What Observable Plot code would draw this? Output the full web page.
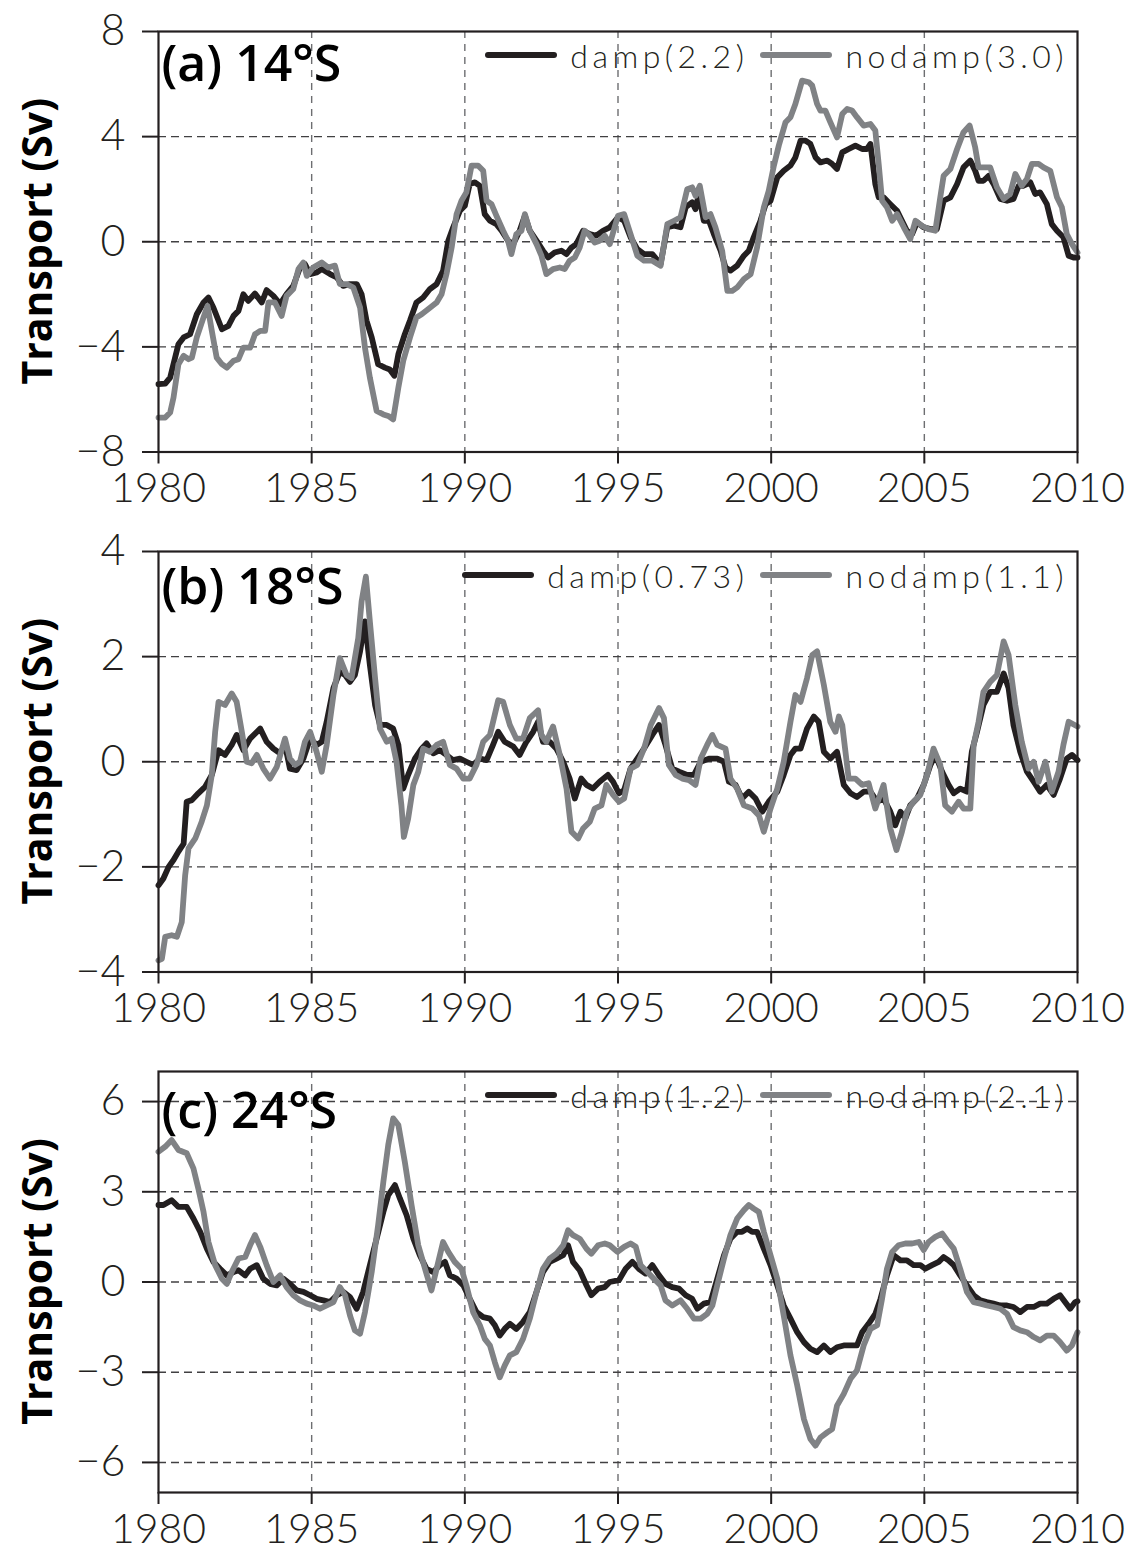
<!DOCTYPE html>
<html>
<head>
<meta charset="utf-8">
<script src="https://cdn.jsdelivr.net/npm/d3@7"></script>
<script src="https://cdn.jsdelivr.net/npm/@observablehq/plot@0.6"></script>
<style>
  html, body { margin: 0; padding: 0; background: #fff; }
  #chart { position: relative; width: 1134px; }
  .panel { position: relative; width: 1134px; }
  .panel svg { display: block; }
  .legend {
    position: absolute; display: flex; align-items: center; height: 32px;
    font-family: Lato, sans-serif; font-weight: 300; font-size: 32px;
    letter-spacing: 4.5px; color: #231f20; white-space: nowrap;
  }
  .legend .sw { display: inline-block; width: 72px; height: 6px; border-radius: 3px; margin-right: 13px; }
  .legend .lab { margin-right: 12px; }
  g[aria-label="x-axis tick label"] text { font-size: 41px; }
  g[aria-label="y-axis tick label"] text { font-size: 43px; }
  g[aria-label="x-axis tick"], g[aria-label="y-axis tick"] { stroke-width: 2px; }
</style>
</head>
<body>
<div id="chart"></div>
<script>
// Meridional transport time series (Sv), damped vs. undamped runs, [year, value]
const damp14 = [
  [1980.00,-5.42],[1980.22,-5.40],[1980.38,-5.17],[1980.65,-3.90],[1980.82,-3.64],[1981.03,-3.52],
  [1981.25,-2.76],[1981.47,-2.31],[1981.63,-2.12],[1981.79,-2.50],[1982.07,-3.33],[1982.28,-3.20],
  [1982.45,-2.82],[1982.61,-2.63],[1982.77,-2.00],[1982.93,-2.25],[1983.15,-1.97],[1983.37,-2.31],
  [1983.53,-1.84],[1983.75,-2.06],[1983.97,-2.37],[1984.18,-1.99],[1984.40,-1.68],[1984.62,-0.98],
  [1984.78,-0.85],[1984.95,-1.23],[1985.16,-1.17],[1985.33,-1.04],[1985.60,-1.23],[1985.82,-1.36],
  [1986.03,-1.68],[1986.25,-1.61],[1986.47,-1.61],[1986.63,-2.00],[1986.79,-3.00],[1986.96,-3.64],
  [1987.17,-4.66],[1987.39,-4.79],[1987.55,-4.86],[1987.70,-5.10],[1987.83,-4.28],[1988.04,-3.52],
  [1988.21,-3.00],[1988.42,-2.31],[1988.64,-2.12],[1988.86,-1.80],[1989.08,-1.61],[1989.29,-1.10],
  [1989.46,0.04],[1989.62,0.55],[1989.84,1.18],[1990.00,1.37],[1990.16,2.20],[1990.33,2.26],
  [1990.49,2.13],[1990.65,1.05],[1990.82,0.80],[1991.03,0.67],[1991.20,0.42],[1991.41,0.04],
  [1991.58,-0.09],[1991.79,0.42],[1991.96,0.99],[1992.12,0.42],[1992.34,0.04],[1992.55,-0.34],
  [1992.72,-0.60],[1992.93,-0.41],[1993.15,-0.34],[1993.32,-0.47],[1993.48,-0.22],[1993.64,-0.09],
  [1993.86,0.42],[1994.08,0.29],[1994.29,0.23],[1994.51,0.42],[1994.73,0.55],[1995.00,0.93],
  [1995.20,0.80],[1995.41,0.17],[1995.63,-0.28],[1995.85,-0.47],[1996.12,-0.47],[1996.39,-0.85],
  [1996.61,0.55],[1996.83,0.61],[1997.04,0.55],[1997.21,1.31],[1997.42,1.50],[1997.53,1.24],
  [1997.64,1.82],[1997.80,0.80],[1997.97,0.80],[1998.13,0.29],[1998.35,-0.34],[1998.51,-0.98],
  [1998.67,-1.10],[1998.89,-0.91],[1999.11,-0.53],[1999.27,-0.34],[1999.43,0.17],[1999.65,0.80],
  [1999.82,1.43],[1999.98,1.56],[2000.20,2.45],[2000.41,2.70],[2000.63,2.90],[2000.79,3.21],
  [2000.96,3.85],[2001.12,3.85],[2001.28,3.72],[2001.45,3.21],[2001.61,3.02],[2001.83,3.09],
  [2001.99,2.96],[2002.15,2.77],[2002.32,3.40],[2002.53,3.53],[2002.75,3.66],[2002.97,3.53],
  [2003.13,3.53],[2003.24,3.72],[2003.40,2.20],[2003.51,1.69],[2003.67,1.69],[2003.89,1.43],
  [2004.11,1.18],[2004.27,0.80],[2004.43,0.42],[2004.60,0.29],[2004.76,0.74],[2004.98,0.55],
  [2005.20,0.48],[2005.41,0.48],[2005.63,1.56],[2005.85,1.69],[2006.07,2.20],[2006.28,2.83],
  [2006.50,3.09],[2006.66,2.70],[2006.77,2.32],[2006.93,2.32],[2007.10,2.51],[2007.26,2.20],
  [2007.48,1.63],[2007.70,1.56],[2007.91,1.63],[2008.08,2.13],[2008.24,2.13],[2008.46,2.26],
  [2008.62,1.82],[2008.78,1.88],[2009.00,1.43],[2009.16,0.67],[2009.33,0.42],[2009.54,0.17],
  [2009.71,-0.53],[2009.87,-0.60],[2010.00,-0.60]
];
const nodamp14 = [
  [1980.00,-6.69],[1980.22,-6.69],[1980.38,-6.50],[1980.49,-5.93],[1980.65,-4.66],[1980.82,-4.34],
  [1980.98,-4.47],[1981.09,-4.41],[1981.25,-3.64],[1981.47,-2.88],[1981.60,-2.44],[1981.74,-3.39],
  [1981.90,-4.41],[1982.07,-4.66],[1982.23,-4.79],[1982.45,-4.53],[1982.61,-4.47],[1982.77,-4.03],
  [1982.99,-4.03],[1983.15,-3.52],[1983.32,-3.39],[1983.48,-3.39],[1983.59,-2.31],[1983.80,-2.31],
  [1984.02,-2.82],[1984.18,-2.06],[1984.40,-1.80],[1984.57,-1.04],[1984.73,-0.79],[1984.84,-1.30],
  [1985.05,-0.98],[1985.33,-0.79],[1985.54,-0.98],[1985.76,-0.91],[1985.92,-1.61],[1986.14,-1.61],
  [1986.36,-1.74],[1986.58,-2.50],[1986.74,-4.03],[1986.90,-5.17],[1987.12,-6.44],[1987.34,-6.57],
  [1987.50,-6.63],[1987.66,-6.76],[1987.83,-5.55],[1987.99,-4.53],[1988.21,-3.64],[1988.42,-2.88],
  [1988.59,-2.76],[1988.80,-2.57],[1989.08,-2.31],[1989.24,-2.00],[1989.40,-1.23],[1989.57,-0.22],
  [1989.73,1.05],[1989.89,1.56],[1990.05,1.88],[1990.22,2.90],[1990.43,2.90],[1990.60,2.70],
  [1990.71,1.56],[1990.87,1.43],[1991.03,0.99],[1991.25,0.42],[1991.41,0.04],[1991.52,-0.47],
  [1991.68,0.29],[1991.85,0.42],[1991.96,1.05],[1992.12,0.42],[1992.34,-0.09],[1992.50,-0.53],
  [1992.66,-1.23],[1992.88,-1.04],[1993.10,-0.98],[1993.26,-1.04],[1993.42,-0.72],[1993.59,-0.60],
  [1993.75,-0.22],[1993.91,0.42],[1994.08,0.23],[1994.24,-0.03],[1994.40,0.04],[1994.57,0.23],
  [1994.73,-0.09],[1994.89,0.55],[1995.00,0.99],[1995.20,1.05],[1995.41,0.29],[1995.63,-0.53],
  [1995.85,-0.72],[1996.12,-0.72],[1996.39,-0.91],[1996.61,0.67],[1996.83,0.80],[1997.04,0.93],
  [1997.26,2.00],[1997.42,2.07],[1997.53,1.75],[1997.67,2.13],[1997.86,0.93],[1998.02,1.05],
  [1998.18,0.55],[1998.40,-0.34],[1998.57,-1.87],[1998.73,-1.87],[1998.89,-1.74],[1999.11,-1.42],
  [1999.33,-1.23],[1999.54,-0.22],[1999.76,1.31],[1999.92,1.94],[2000.09,2.90],[2000.25,3.66],
  [2000.47,4.55],[2000.63,4.74],[2000.79,5.24],[2001.01,6.13],[2001.23,6.07],[2001.34,5.94],
  [2001.50,5.24],[2001.61,4.99],[2001.77,4.99],[2001.93,4.55],[2002.15,3.97],[2002.32,4.86],
  [2002.48,5.05],[2002.64,4.99],[2002.80,4.74],[2003.02,4.42],[2003.24,4.48],[2003.40,4.23],
  [2003.51,2.96],[2003.62,1.56],[2003.78,1.31],[2003.95,0.80],[2004.11,1.05],[2004.33,0.55],
  [2004.54,0.10],[2004.71,0.80],[2004.92,0.61],[2005.14,0.48],[2005.36,0.42],[2005.52,1.69],
  [2005.63,2.51],[2005.85,2.77],[2006.07,3.53],[2006.28,4.17],[2006.48,4.42],[2006.66,3.59],
  [2006.77,2.83],[2006.99,2.83],[2007.15,2.83],[2007.37,2.07],[2007.59,1.63],[2007.80,1.82],
  [2007.97,2.58],[2008.18,2.13],[2008.35,2.39],[2008.51,2.96],[2008.73,2.96],[2008.89,2.83],
  [2009.11,2.70],[2009.33,1.69],[2009.49,1.31],[2009.65,0.29],[2009.82,-0.09],[2010.00,-0.41]
];
const damp18 = [
  [1980.00,-2.35],[1980.16,-2.22],[1980.33,-2.00],[1980.49,-1.87],[1980.65,-1.71],[1980.82,-1.56],
  [1980.92,-0.76],[1981.09,-0.73],[1981.30,-0.60],[1981.52,-0.48],[1981.74,-0.25],[1981.96,0.22],
  [1982.17,0.13],[1982.39,0.32],[1982.55,0.51],[1982.77,0.22],[1982.99,0.44],[1983.32,0.63],
  [1983.53,0.38],[1983.75,0.25],[1983.97,0.16],[1984.13,0.32],[1984.29,-0.13],[1984.51,-0.16],
  [1984.73,0.06],[1984.95,0.44],[1985.16,0.32],[1985.33,0.38],[1985.49,0.76],[1985.71,1.40],
  [1985.92,1.71],[1986.09,1.65],[1986.25,1.52],[1986.41,1.65],[1986.58,2.10],[1986.74,2.67],
  [1986.90,1.84],[1987.07,1.08],[1987.23,0.70],[1987.45,0.70],[1987.66,0.63],[1987.83,0.32],
  [1987.99,-0.51],[1988.15,-0.25],[1988.37,0.06],[1988.59,0.25],[1988.75,0.35],[1988.97,0.16],
  [1989.18,0.22],[1989.40,0.13],[1989.62,0.03],[1989.84,0.06],[1990.05,0.00],[1990.27,-0.06],
  [1990.49,0.06],[1990.71,0.03],[1990.92,0.32],[1991.09,0.57],[1991.30,0.38],[1991.58,0.29],
  [1991.79,0.13],[1992.01,0.38],[1992.23,0.57],[1992.39,0.76],[1992.55,0.38],[1992.77,0.38],
  [1992.99,0.25],[1993.21,0.00],[1993.42,-0.32],[1993.59,-0.70],[1993.80,-0.32],[1993.97,-0.44],
  [1994.18,-0.51],[1994.40,-0.38],[1994.67,-0.25],[1994.84,-0.38],[1995.03,-0.60],[1995.20,-0.54],
  [1995.41,-0.13],[1995.63,0.06],[1995.85,0.25],[1996.12,0.51],[1996.34,0.70],[1996.55,0.32],
  [1996.77,-0.13],[1996.99,-0.19],[1997.26,-0.25],[1997.48,-0.25],[1997.70,0.00],[1997.97,0.06],
  [1998.24,0.06],[1998.46,0.00],[1998.62,-0.38],[1998.84,-0.44],[1999.05,-0.70],[1999.27,-0.57],
  [1999.49,-0.70],[1999.71,-0.95],[1999.92,-0.76],[2000.20,-0.57],[2000.41,-0.25],[2000.63,0.13],
  [2000.79,0.25],[2000.96,0.25],[2001.17,0.63],[2001.39,0.86],[2001.55,0.76],[2001.72,0.19],
  [2001.93,0.06],[2002.15,0.19],[2002.37,-0.44],[2002.59,-0.60],[2002.80,-0.67],[2003.02,-0.57],
  [2003.24,-0.57],[2003.46,-0.76],[2003.67,-0.70],[2003.89,-0.95],[2004.05,-1.21],[2004.22,-0.95],
  [2004.38,-1.08],[2004.54,-0.83],[2004.76,-0.70],[2004.98,-0.44],[2005.20,-0.06],[2005.36,0.13],
  [2005.58,-0.19],[2005.79,-0.44],[2005.96,-0.60],[2006.17,-0.51],[2006.39,-0.57],[2006.55,0.19],
  [2006.72,0.57],[2006.93,1.08],[2007.15,1.33],[2007.37,1.33],[2007.59,1.68],[2007.75,1.40],
  [2007.91,0.70],[2008.13,0.19],[2008.35,-0.19],[2008.57,-0.38],[2008.78,-0.57],[2009.00,-0.44],
  [2009.22,-0.63],[2009.43,-0.32],[2009.65,0.06],[2009.82,0.13],[2010.00,0.03]
];
const nodamp18 = [
  [1980.00,-3.78],[1980.11,-3.75],[1980.22,-3.33],[1980.43,-3.30],[1980.60,-3.33],[1980.76,-3.05],
  [1980.87,-2.16],[1980.98,-1.65],[1981.20,-1.46],[1981.41,-1.14],[1981.58,-0.83],[1981.74,-0.25],
  [1981.85,0.57],[1981.96,1.14],[1982.17,1.08],[1982.39,1.30],[1982.55,1.14],[1982.72,0.57],
  [1982.88,0.00],[1983.04,-0.03],[1983.21,0.13],[1983.42,-0.13],[1983.64,-0.32],[1983.86,-0.10],
  [1984.13,0.44],[1984.29,0.06],[1984.46,-0.06],[1984.62,0.00],[1984.78,0.38],[1984.95,0.57],
  [1985.16,0.19],[1985.33,-0.19],[1985.49,0.32],[1985.71,1.27],[1985.92,1.97],[1986.14,1.65],
  [1986.30,1.59],[1986.52,2.35],[1986.63,3.05],[1986.77,3.52],[1986.90,2.67],[1987.07,1.59],
  [1987.23,0.63],[1987.45,0.38],[1987.61,0.44],[1987.77,0.00],[1987.93,-0.83],[1988.01,-1.43],
  [1988.15,-1.08],[1988.32,-0.44],[1988.48,-0.19],[1988.64,0.25],[1988.86,0.19],[1989.08,0.32],
  [1989.29,0.38],[1989.51,-0.06],[1989.73,-0.13],[1989.95,-0.32],[1990.16,-0.32],[1990.38,-0.06],
  [1990.60,0.38],[1990.82,0.51],[1991.09,1.17],[1991.25,1.14],[1991.47,0.70],[1991.68,0.44],
  [1991.90,0.44],[1992.12,0.83],[1992.39,0.98],[1992.50,0.51],[1992.66,0.38],[1992.88,0.67],
  [1993.10,0.13],[1993.32,-0.51],[1993.48,-1.33],[1993.70,-1.46],[1993.86,-1.27],[1994.08,-1.14],
  [1994.24,-0.89],[1994.46,-0.83],[1994.62,-0.44],[1994.84,-0.63],[1995.03,-0.76],[1995.20,-0.70],
  [1995.41,-0.13],[1995.63,-0.06],[1995.85,0.25],[1996.07,0.70],[1996.34,1.02],[1996.50,0.83],
  [1996.66,-0.06],[1996.88,-0.25],[1997.10,-0.32],[1997.32,-0.35],[1997.53,-0.44],[1997.70,0.06],
  [1997.91,0.32],[1998.08,0.51],[1998.24,0.32],[1998.51,0.25],[1998.67,-0.32],[1998.89,-0.51],
  [1999.11,-0.83],[1999.38,-0.89],[1999.60,-1.02],[1999.76,-1.33],[1999.98,-0.89],[2000.20,-0.51],
  [2000.41,0.00],[2000.63,0.76],[2000.79,1.27],[2000.96,1.14],[2001.17,1.59],[2001.34,2.03],
  [2001.50,2.10],[2001.72,1.46],[2001.93,0.76],[2002.10,0.57],[2002.21,0.86],[2002.32,0.70],
  [2002.53,-0.32],[2002.75,-0.32],[2002.97,-0.44],[2003.18,-0.41],[2003.40,-0.89],[2003.67,-0.44],
  [2003.89,-1.27],[2004.09,-1.68],[2004.27,-1.33],[2004.43,-0.95],[2004.65,-0.76],[2004.87,-0.63],
  [2005.09,-0.25],[2005.30,0.25],[2005.52,-0.06],[2005.68,-0.83],[2005.90,-0.95],[2006.12,-0.76],
  [2006.28,-0.89],[2006.50,-0.89],[2006.61,0.32],[2006.77,0.76],[2006.93,1.33],[2007.15,1.52],
  [2007.37,1.65],[2007.59,2.29],[2007.75,2.03],[2007.97,1.08],[2008.18,0.38],[2008.40,-0.13],
  [2008.57,0.00],[2008.73,-0.38],[2008.95,0.00],[2009.16,-0.57],[2009.38,-0.19],[2009.54,0.32],
  [2009.71,0.76],[2010.00,0.67]
];
const damp24 = [
  [1980.00,2.56],[1980.16,2.56],[1980.43,2.72],[1980.65,2.50],[1980.92,2.50],[1981.14,2.11],
  [1981.36,1.67],[1981.58,1.11],[1981.79,0.67],[1982.01,0.44],[1982.23,0.22],[1982.45,0.33],
  [1982.61,0.39],[1982.83,0.22],[1982.99,0.44],[1983.21,0.56],[1983.42,0.11],[1983.64,-0.06],
  [1983.86,-0.11],[1984.08,0.11],[1984.29,-0.06],[1984.51,-0.28],[1984.73,-0.33],[1984.95,-0.44],
  [1985.16,-0.56],[1985.38,-0.61],[1985.60,-0.67],[1985.82,-0.44],[1986.03,-0.33],[1986.25,-0.50],
  [1986.47,-0.89],[1986.68,-0.33],[1986.90,0.56],[1987.12,1.44],[1987.34,2.33],[1987.50,2.89],
  [1987.72,3.22],[1987.88,2.78],[1988.10,2.22],[1988.32,1.44],[1988.53,0.89],[1988.75,0.44],
  [1988.97,0.33],[1989.18,0.56],[1989.35,0.67],[1989.51,0.22],[1989.73,0.11],[1989.95,-0.11],
  [1990.16,-0.56],[1990.38,-1.00],[1990.60,-1.17],[1990.82,-1.22],[1990.98,-1.44],[1991.14,-1.78],
  [1991.30,-1.56],[1991.47,-1.39],[1991.68,-1.56],[1991.90,-1.33],[1992.12,-1.00],[1992.34,-0.33],
  [1992.55,0.33],[1992.77,0.67],[1992.99,0.78],[1993.21,0.89],[1993.37,1.22],[1993.53,0.67],
  [1993.75,0.39],[1993.97,-0.11],[1994.13,-0.44],[1994.35,-0.22],[1994.57,-0.17],[1994.73,0.00],
  [1995.03,0.06],[1995.25,0.44],[1995.47,0.67],[1995.68,0.44],[1995.90,0.28],[1996.12,0.56],
  [1996.34,0.22],[1996.55,-0.06],[1996.77,-0.17],[1996.99,-0.22],[1997.21,-0.44],[1997.42,-0.56],
  [1997.59,-0.89],[1997.80,-0.72],[1998.02,-0.67],[1998.24,0.11],[1998.46,0.89],[1998.67,1.44],
  [1998.89,1.67],[1999.05,1.67],[1999.22,1.78],[1999.38,1.67],[1999.54,1.67],[1999.76,1.11],
  [1999.98,0.56],[2000.20,-0.11],[2000.41,-0.78],[2000.63,-1.22],[2000.85,-1.67],[2001.07,-2.00],
  [2001.28,-2.22],[2001.50,-2.33],[2001.72,-2.11],[2001.93,-2.33],[2002.15,-2.17],[2002.37,-2.11],
  [2002.59,-2.11],[2002.80,-2.11],[2002.97,-1.67],[2003.18,-1.39],[2003.40,-1.06],[2003.57,-0.56],
  [2003.78,0.22],[2004.00,0.89],[2004.22,0.72],[2004.43,0.72],[2004.65,0.56],[2004.87,0.56],
  [2005.03,0.44],[2005.25,0.56],[2005.47,0.67],[2005.63,0.83],[2005.79,0.72],[2005.96,0.56],
  [2006.17,0.22],[2006.39,-0.11],[2006.61,-0.44],[2006.83,-0.61],[2007.04,-0.67],[2007.26,-0.72],
  [2007.48,-0.78],[2007.70,-0.78],[2007.91,-0.83],[2008.13,-1.00],[2008.35,-0.83],[2008.57,-0.83],
  [2008.78,-0.72],[2009.00,-0.72],[2009.22,-0.56],[2009.43,-0.44],[2009.60,-0.67],[2009.76,-0.89],
  [2009.92,-0.67],[2010.00,-0.64]
];
const nodamp24 = [
  [1980.00,4.33],[1980.22,4.50],[1980.43,4.72],[1980.65,4.39],[1980.92,4.28],[1981.14,3.78],
  [1981.30,3.11],[1981.47,2.33],[1981.63,1.33],[1981.85,0.56],[1982.07,0.11],[1982.23,-0.06],
  [1982.39,0.33],[1982.61,0.78],[1982.83,0.83],[1982.99,1.22],[1983.15,1.56],[1983.32,1.17],
  [1983.53,0.56],[1983.75,0.00],[1983.97,0.22],[1984.18,-0.17],[1984.40,-0.44],[1984.62,-0.61],
  [1984.84,-0.72],[1985.05,-0.78],[1985.27,-0.89],[1985.49,-0.78],[1985.71,-0.67],[1985.92,-0.17],
  [1986.09,-0.44],[1986.25,-1.11],[1986.41,-1.61],[1986.58,-1.72],[1986.74,-1.00],[1986.96,0.33],
  [1987.17,1.89],[1987.34,3.33],[1987.50,4.56],[1987.66,5.44],[1987.83,5.22],[1988.04,4.00],
  [1988.26,2.56],[1988.48,1.22],[1988.70,0.44],[1988.91,-0.28],[1989.08,0.44],[1989.29,1.33],
  [1989.46,1.00],[1989.67,0.67],[1989.89,0.44],[1990.05,-0.11],[1990.27,-1.00],[1990.49,-1.44],
  [1990.65,-1.89],[1990.82,-2.11],[1990.98,-2.67],[1991.14,-3.17],[1991.30,-2.78],[1991.47,-2.44],
  [1991.68,-2.33],[1991.90,-1.89],[1992.12,-1.22],[1992.34,-0.33],[1992.55,0.44],[1992.77,0.78],
  [1992.99,0.94],[1993.21,1.22],[1993.37,1.72],[1993.53,1.56],[1993.75,1.44],[1993.97,1.11],
  [1994.13,0.94],[1994.35,1.22],[1994.57,1.28],[1994.73,1.22],[1994.98,1.00],[1995.20,1.17],
  [1995.41,1.28],[1995.58,1.17],[1995.74,0.56],[1995.96,0.33],[1996.17,0.11],[1996.39,-0.11],
  [1996.55,-0.61],[1996.77,-0.78],[1997.04,-0.61],[1997.26,-0.89],[1997.48,-1.22],[1997.70,-1.22],
  [1997.91,-1.06],[1998.08,-0.78],[1998.24,-0.11],[1998.46,0.78],[1998.67,1.56],[1998.89,2.11],
  [1999.11,2.39],[1999.27,2.56],[1999.43,2.44],[1999.60,2.33],[1999.76,1.67],[1999.98,0.89],
  [2000.20,0.11],[2000.41,-1.11],[2000.63,-2.44],[2000.85,-3.44],[2001.07,-4.56],[2001.28,-5.22],
  [2001.45,-5.44],[2001.61,-5.17],[2001.83,-5.00],[2001.99,-4.89],[2002.15,-4.11],[2002.37,-3.72],
  [2002.59,-3.22],[2002.80,-2.94],[2003.02,-2.11],[2003.24,-1.56],[2003.46,-1.44],[2003.62,-0.56],
  [2003.78,0.44],[2003.95,1.00],[2004.16,1.22],[2004.38,1.28],[2004.60,1.28],[2004.82,1.33],
  [2004.98,1.06],[2005.14,1.33],[2005.36,1.50],[2005.58,1.61],[2005.74,1.39],[2005.96,1.11],
  [2006.17,0.44],[2006.39,-0.33],[2006.61,-0.67],[2006.83,-0.72],[2007.04,-0.78],[2007.26,-0.83],
  [2007.48,-0.89],[2007.70,-1.06],[2007.91,-1.50],[2008.13,-1.61],[2008.35,-1.67],[2008.57,-1.83],
  [2008.78,-1.94],[2009.00,-1.78],[2009.22,-1.78],[2009.43,-2.00],[2009.65,-2.28],[2009.82,-2.11],
  [2010.00,-1.67]
];

// Axis ticks
const xTicks = [1980, 1985, 1990, 1995, 2000, 2005, 2010];
const yTicks14 = [-8, -4, 0, 4, 8];
const yTicks18 = [-4, -2, 0, 2, 4];
const yTicks24 = [-6, -3, 0, 3, 6];

// Panel titles and legend entries (RMS in parentheses)
const titles = ["(a) 14°S", "(b) 18°S", "(c) 24°S"];
const legends = [
  ["damp(2.2)", "nodamp(3.0)"],
  ["damp(0.73)", "nodamp(1.1)"],
  ["damp(1.2)", "nodamp(2.1)"]
];

const INK = "#231f20";
const DAMP = "#231f20";
const NODAMP = "#808285";

const panels = [
  {title: titles[0], legend: legends[0], damp: damp14, nodamp: nodamp14, domain: [-8, 8], ticks: yTicks14, h: 520, mb: 68.5, titleDy: 13.5},
  {title: titles[1], legend: legends[1], damp: damp18, nodamp: nodamp18, domain: [-4, 4], ticks: yTicks18, h: 520, mb: 68.5, titleDy: 16.5},
  {title: titles[2], legend: legends[2], damp: damp24, nodamp: nodamp24, domain: [-7, 7], ticks: yTicks24, h: 510, mb: 58, titleDy: 20.5}
];

const MT = 31, ML = 158, MR = 57;
const chart = document.getElementById("chart");

for (const p of panels) {
  const lo = p.domain[0], hi = p.domain[1];
  const innerY = p.ticks.filter(t => t > lo && t < hi);
  const innerX = xTicks.slice(1, -1);
  const plot = Plot.plot({
    width: 1134,
    height: p.h,
    marginTop: MT,
    marginBottom: p.mb,
    marginLeft: ML,
    marginRight: MR,
    style: {fontFamily: "Lato, sans-serif", fontWeight: 300, fontSize: "41px", color: INK, background: "#fff", overflow: "visible"},
    x: {domain: [1980, 2010], ticks: xTicks, tickFormat: d => String(d), tickSize: 12, tickPadding: 9, label: null},
    y: {domain: p.domain, ticks: p.ticks, tickSize: 16, tickPadding: 17, label: null},
    marks: [
      Plot.ruleX(innerX, {stroke: "#6d6e71", strokeWidth: 1.4, strokeDasharray: "7,6"}),
      Plot.ruleY(innerY, {stroke: "#414042", strokeWidth: 1.4, strokeDasharray: "8,5"}),
      Plot.line(p.damp, {x: d => d[0], y: d => d[1], stroke: DAMP, strokeWidth: 5.8, strokeLinejoin: "round", strokeLinecap: "round"}),
      Plot.line(p.nodamp, {x: d => d[0], y: d => d[1], stroke: NODAMP, strokeWidth: 5.8, strokeLinejoin: "round", strokeLinecap: "round"}),
      Plot.frame({stroke: INK, strokeWidth: 2.2}),
      Plot.text([p.title], {
        frameAnchor: "top-left", dx: 3, dy: p.titleDy, lineAnchor: "top", textAnchor: "start",
        fontSize: 50, fontWeight: 600, fontFamily: "'Open Sans', sans-serif", fill: "#000"
      })
    ]
  });

  // rotated y-axis title
  const svg = d3.select(plot);
  const cy = MT + (p.h - MT - p.mb) / 2;
  svg.append("text")
    .attr("transform", `translate(36,${cy}) rotate(-90)`)
    .attr("text-anchor", "middle")
    .attr("dominant-baseline", "central")
    .attr("font-family", "'Open Sans', sans-serif")
    .attr("font-weight", 700)
    .attr("font-size", 41)
    .attr("fill", "#000")
    .text("Transport (Sv)");

  const wrap = document.createElement("div");
  wrap.className = "panel";
  wrap.appendChild(plot);

  // in-frame legend, top right
  const lg = document.createElement("div");
  lg.className = "legend";
  lg.style.right = "66px";
  lg.style.top = (MT + 24 - 16) + "px";
  [[DAMP, p.legend[0]], [NODAMP, p.legend[1]]].forEach(([c, t], i) => {
    const sw = document.createElement("span");
    sw.className = "sw";
    sw.style.background = c;
    const lab = document.createElement("span");
    lab.className = "lab";
    lab.textContent = t;
    if (i === 1) lab.style.marginRight = "0";
    lg.appendChild(sw);
    lg.appendChild(lab);
  });
  wrap.appendChild(lg);
  chart.appendChild(wrap);
}
</script>
</body>
</html>
